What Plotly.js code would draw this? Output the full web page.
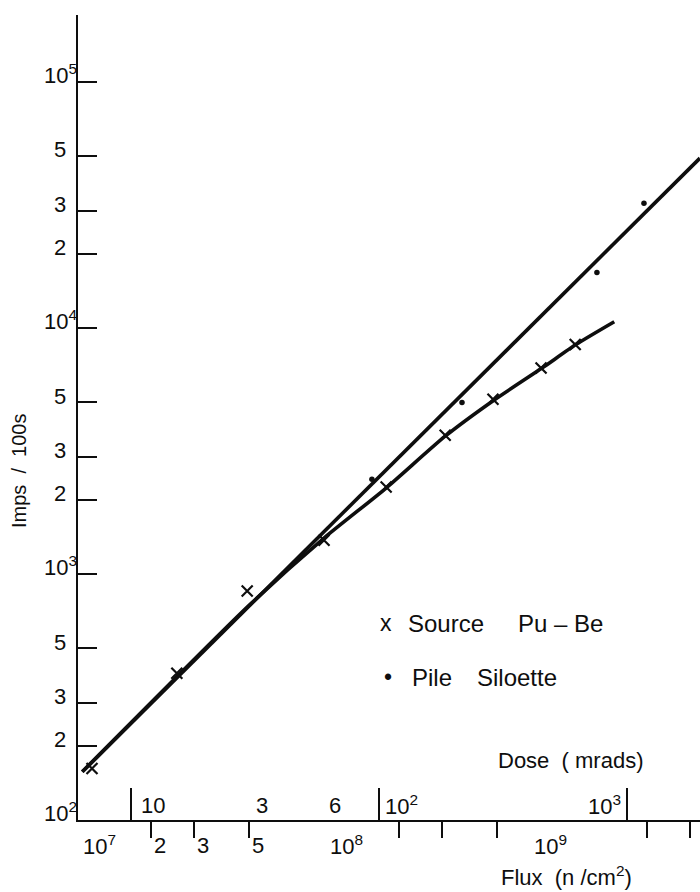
<!DOCTYPE html>
<html>
<head>
<meta charset="utf-8">
<script src="https://cdn.plot.ly/plotly-3.0.1.min.js"></script>
<style>
html,body{margin:0;padding:0;background:#fff;}
#chart{width:700px;height:892px;}
</style>
</head>
<body>
<div id="chart"></div>
<script>
// ---------- data ----------
// Source Pu-Be measurements (x markers): flux (n/cm2) and counts (Imps/100s)
const sourceFlux   = [1.16e7, 2.55e7, 4.9e7, 1.0e8, 1.78e8, 3.08e8, 4.8e8, 7.5e8, 1.03e9];
const sourceCounts = [162, 395, 853, 1372, 2258, 3665, 5130, 6870, 8570];
// Pile Siloette measurements (dots)
const pileFlux   = [1.56e8, 3.6e8, 1.26e9, 1.95e9];
const pileCounts = [2425, 4980, 16800, 32100];
// Straight fitted line (Pile Siloette)
const pileFitFlux   = [1.06e7, 3.28e9];
const pileFitCounts = [157, 49000];
// Curved fitted line (Source Pu-Be)
const sourceFitFlux   = [1.06e7, 5.0e7, 1.0e8, 1.78e8, 3.08e8, 4.84e8, 7.57e8, 1.04e9, 1.48e9];
const sourceFitCounts = [157, 747, 1400, 2235, 3630, 5085, 6870, 8580, 10600];

// Axis ticks and labels
const yTickVals = [100, 200, 300, 500, 1000, 2000, 3000, 5000, 10000, 20000, 30000, 50000, 100000];
const yTickText = ['10<sup>2</sup>', '2', '3', '5', '10<sup>3</sup>', '2', '3', '5', '10<sup>4</sup>', '2', '3', '5', '10<sup>5</sup>'];
const yMajorTicks = [1000, 10000, 100000];

const fluxMinorTicks = [2e7, 3e7, 5e7, 2e8, 3e8, 5e8, 2e9, 3e9];
const fluxMajorTicks = [1e8, 1e9];
const fluxLabelVals = [1e7, 2e7, 3e7, 5e7, 1e8, 1e9];
const fluxLabelText = ['10<sup>7</sup>', '2', '3', '5', '10<sup>8</sup>', '10<sup>9</sup>'];

const doseMajorTicks = [10, 100, 1000];
const doseMinorTicks = [30, 60, 300, 600];
const doseLabelVals = [10, 30, 60, 100, 1000];
const doseLabelText = ['10', '3', '6', '10<sup>2</sup>', '10<sup>3</sup>'];
const DOSE_TO_FLUX = 1e8 / 60;   // 60 mrads <-> 1e8 n/cm2 on the two scales

// ---------- styling / layout ----------
const FONT = 'Liberation Sans, Arial, Helvetica, sans-serif';
const INK = '#0e0e0e';
const PL = 78, PT = 15, PB = 72, W = 700, H = 892;
const TICK_FONT = 22;

const xRange = [7.008, 9.516];
const yRange = [2, 5.272];
const doseShift = Math.log10(DOSE_TO_FLUX);
const doseRange = [xRange[0] - doseShift, xRange[1] - doseShift];

// label placement styles (pixel offsets from tick, anchors)
const fluxLabelAnchor = ['left', 'left', 'left', 'left', 'left', 'right'];
const fluxLabelDx = [3, 1, 1, 1, 4, -3];
const doseLabelAnchor = ['left', 'left', 'left', 'left', 'right'];
const doseLabelDx = [8, 5, 3, 4, -4];

const traces = [
  {x: pileFitFlux, y: pileFitCounts, mode: 'lines', type: 'scatter',
   line: {color: INK, width: 3.6}, hoverinfo: 'skip'},
  {x: sourceFitFlux, y: sourceFitCounts, mode: 'lines', type: 'scatter',
   line: {color: INK, width: 3.6, shape: 'spline', smoothing: 0.6}, hoverinfo: 'skip'},
  {x: sourceFlux, y: sourceCounts, mode: 'markers', type: 'scatter', name: 'Source Pu-Be',
   marker: {symbol: 'x-thin', size: 11, color: INK, line: {color: INK, width: 2.2}}},
  {x: pileFlux, y: pileCounts, mode: 'markers', type: 'scatter', name: 'Pile Siloette',
   marker: {symbol: 'circle', size: 5.5, color: INK}}
];

function pxAnn(text, px, py, xanchor, size, extra) {
  return Object.assign({
    xref: 'paper', yref: 'paper', x: 0, y: 1,
    xshift: px - PL, yshift: -(py - PT),
    xanchor: xanchor, yanchor: 'middle',
    text: text, showarrow: false,
    font: {family: FONT, size: size, color: INK}
  }, extra || {});
}

const annotations = [];
// y tick labels (left of axis, slightly above their ticks)
yTickVals.forEach((v, i) => {
  const isDecade = yTickText[i].indexOf('<sup>') >= 0;
  annotations.push({
    xref: 'paper', yref: 'y', x: 0, y: Math.log10(v),
    xshift: isDecade ? 1 : -10, yshift: isDecade ? 8 : 6,
    xanchor: 'right', yanchor: 'middle',
    text: yTickText[i], showarrow: false,
    font: {family: FONT, size: TICK_FONT, color: INK}
  });
});
// flux labels (below axis)
fluxLabelVals.forEach((v, i) => {
  annotations.push({
    xref: 'x', yref: 'paper', x: Math.max(Math.log10(v), xRange[0]), y: 0,
    xshift: fluxLabelDx[i], yshift: -25,
    xanchor: fluxLabelAnchor[i], yanchor: 'middle',
    text: fluxLabelText[i], showarrow: false,
    font: {family: FONT, size: TICK_FONT, color: INK}
  });
});
// dose labels (above axis)
doseLabelVals.forEach((v, i) => {
  annotations.push({
    xref: 'x2', yref: 'paper', x: Math.log10(v), y: 0,
    xshift: doseLabelDx[i], yshift: 15,
    xanchor: doseLabelAnchor[i], yanchor: 'middle',
    text: doseLabelText[i], showarrow: false,
    font: {family: FONT, size: TICK_FONT, color: INK}
  });
});
// axis titles
annotations.push(pxAnn('Dose  ( mrads)', 570, 760, 'center', 22));
annotations.push(pxAnn('Flux  (n /cm<sup>2</sup>)', 566, 876, 'center', 22));
annotations.push(pxAnn('Imps\u00a0\u00a0/\u00a0\u00a0100s', 19, 471, 'center', 20, {textangle: -90}));
// legend
annotations.push(pxAnn('x', 378, 623, 'left', 23));
annotations.push(pxAnn('Source', 406, 623, 'left', 24));
annotations.push(pxAnn('Pu – Be', 516, 623, 'left', 24));
annotations.push(pxAnn('•', 382, 677, 'left', 23));
annotations.push(pxAnn('Pile', 410, 677, 'left', 24));
annotations.push(pxAnn('Siloette', 475, 677, 'left', 24));

const axBase = {type: 'log', showgrid: false, zeroline: false, tickcolor: INK, tickwidth: 2, fixedrange: true};

const layout = {
  width: W, height: H,
  margin: {l: PL, r: 0, t: PT, b: PB, pad: 0},
  paper_bgcolor: '#ffffff', plot_bgcolor: '#ffffff',
  showlegend: false,
  font: {family: FONT, color: INK},
  xaxis: Object.assign({}, axBase, {
    range: xRange, anchor: 'y', showline: true, linecolor: INK, linewidth: 2,
    ticks: 'outside', ticklen: 16, tickvals: fluxMinorTicks, showticklabels: false
  }),
  xaxis3: Object.assign({}, axBase, {
    range: xRange, overlaying: 'x', anchor: 'y', side: 'bottom', showline: false,
    ticks: 'outside', ticklen: 32, tickvals: fluxMajorTicks, showticklabels: false
  }),
  xaxis2: Object.assign({}, axBase, {
    range: doseRange, overlaying: 'x', anchor: 'y', side: 'bottom', showline: false,
    ticks: 'inside', ticklen: 32, tickvals: doseMajorTicks, showticklabels: false
  }),
  xaxis4: Object.assign({}, axBase, {
    range: doseRange, overlaying: 'x', anchor: 'y', side: 'bottom', showline: false,
    ticks: 'inside', ticklen: 11, tickvals: doseMinorTicks, showticklabels: false
  }),
  yaxis: Object.assign({}, axBase, {
    range: yRange, anchor: 'x', showline: true, linecolor: INK, linewidth: 2,
    ticks: 'inside', ticklen: 19, tickvals: yTickVals, showticklabels: false
  }),
  yaxis2: Object.assign({}, axBase, {
    range: yRange, overlaying: 'y', anchor: 'x', side: 'left', showline: false,
    ticks: 'inside', ticklen: 33, tickvals: yMajorTicks, showticklabels: false
  }),
  annotations: annotations
};

Plotly.newPlot('chart', traces, layout, {displayModeBar: false, staticPlot: true});
</script>
</body>
</html>
